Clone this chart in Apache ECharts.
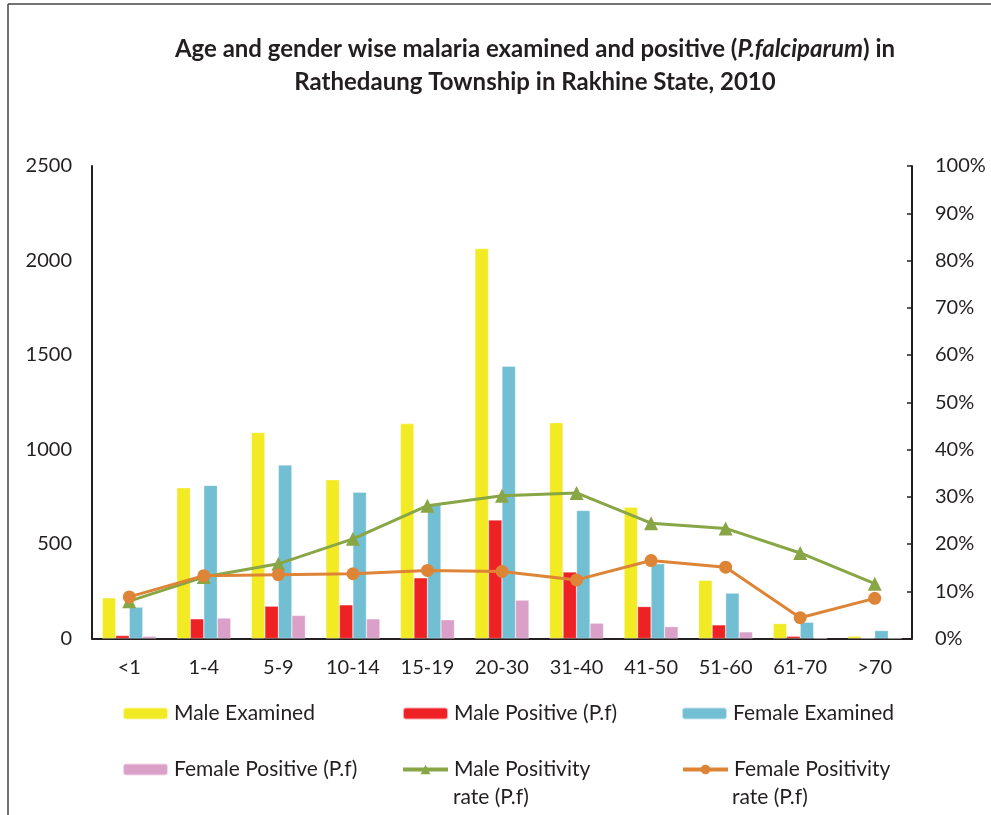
<!DOCTYPE html>
<html>
<head>
<meta charset="utf-8">
<script src="https://cdn.jsdelivr.net/npm/echarts@6/dist/echarts.min.js"></script>
<style>html,body{margin:0;padding:0;background:#fff}#c{width:991px;height:815px}</style>
</head>
<body>
<div id="c"></div>
<script>
var categories = ['<1','1-4','5-9','10-14','15-19','20-30','31-40','41-50','51-60','61-70','>70'];
var maleExamined = [215, 797, 1090, 840, 1137, 2063, 1142, 695, 308, 79, 12];
var malePositive = [16, 104, 171, 178, 321, 627, 352, 169, 72, 12, 0];
var femaleExamined = [166, 810, 918, 774, 712, 1441, 677, 395, 240, 86, 42];
var femalePositive = [12, 108, 122, 104, 99, 203, 81, 63, 35, 0, 0];
var maleRate = [7.9, 13.0, 15.8, 21.1, 28.1, 30.2, 30.8, 24.4, 23.3, 18.1, 11.6];
var femaleRate = [8.8, 13.3, 13.5, 13.7, 14.4, 14.2, 12.4, 16.5, 15.1, 4.4, 8.5];
var leftTicks = [0, 2500, 500];
var rightTicks = [0, 100, 10];

var FONT = 'Lato';
var TXT = '#231F20';
var LFS = 21;
var chart = echarts.init(document.getElementById('c'), null, {renderer: 'canvas'});

function leg(name, left, top) {
  return {
    data: [name], left: left, top: top, orient: 'horizontal',
    itemWidth: 45, itemHeight: 12, itemGap: 0, padding: 0,
    selectedMode: false,
    lineStyle: {width: 4},
    textStyle: {fontFamily: FONT, fontSize: LFS, color: TXT, lineHeight: 20, padding: [0, 0, 0, 1]}
  };
}

function bar(name, data, color) {
  return {
    name: name, type: 'bar', data: data, barWidth: 13.5, barGap: '0%',
    itemStyle: {color: color, borderColor: 'rgba(255,255,255,0.6)', borderWidth: 0.5},
    emphasis: {disabled: true}
  };
}

chart.setOption({
  animation: false,
  backgroundColor: '#fff',
  textStyle: {fontFamily: FONT},
  graphic: [
    {type: 'line', shape: {x1: 8, y1: 4, x2: 991, y2: 4}, style: {stroke: '#444', lineWidth: 1.5}},
    {type: 'line', shape: {x1: 8, y1: 4, x2: 8, y2: 815}, style: {stroke: '#444', lineWidth: 1.5}},
    {type: 'text', x: 535, y: 33, style: {
      text: '{b|Age and gender wise malaria examined and positive (}{bi|P.falciparum}{b|) in}\n{b|Rathedaung Township in Rakhine State, 2010}',
      align: 'center',
      rich: {
        b: {fontFamily: FONT, fontWeight: 'bold', fontSize: 24, lineHeight: 33, fill: TXT},
        bi: {fontFamily: FONT, fontWeight: 'bold', fontStyle: 'italic', fontSize: 24, lineHeight: 33, fill: TXT}
      }
    }},
    {type: 'text', x: 453, y: 787, style: {text: 'rate (P.f)', fontFamily: FONT, fontSize: LFS, fill: TXT, lineHeight: 20}},
    {type: 'text', x: 732, y: 787, style: {text: 'rate (P.f)', fontFamily: FONT, fontSize: LFS, fill: TXT, lineHeight: 20}}
  ],
  legend: [
    leg('Male Examined', 122, 703),
    leg('Male Positive (P.f)', 402, 703),
    leg('Female Examined', 681, 703),
    leg('Female Positive (P.f)', 122, 759),
    leg('Male Positivity', 401, 759),
    leg('Female Positivity', 681, 759)
  ],
  grid: {left: 92, right: 79, top: 166, bottom: 176.5, containLabel: false},
  xAxis: {
    type: 'category', data: categories,
    axisLine: {lineStyle: {color: TXT, width: 2}},
    axisTick: {show: false},
    axisLabel: {fontFamily: FONT, fontSize: 20, color: TXT, margin: 19}
  },
  yAxis: [
    {
      type: 'value', min: leftTicks[0], max: leftTicks[1], interval: leftTicks[2],
      axisLine: {show: true, lineStyle: {color: TXT, width: 2}},
      axisTick: {show: false}, splitLine: {show: false},
      axisLabel: {fontFamily: FONT, fontSize: 20, color: TXT, margin: 20, formatter: function (v) { return String(v); }}
    },
    {
      type: 'value', position: 'right', min: rightTicks[0], max: rightTicks[1], interval: rightTicks[2],
      axisLine: {show: true, lineStyle: {color: TXT, width: 2}},
      axisTick: {show: true, inside: true, length: 5, lineStyle: {color: TXT, width: 1.5}},
      splitLine: {show: false},
      axisLabel: {fontFamily: FONT, fontSize: 20, color: TXT, margin: 23, formatter: '{value}%'}
    }
  ],
  series: [
    bar('Male Examined', maleExamined, '#F2EA23'),
    bar('Male Positive (P.f)', malePositive, '#EE2224'),
    bar('Female Examined', femaleExamined, '#72BED3'),
    bar('Female Positive (P.f)', femalePositive, '#DBA0C8'),
    {
      name: 'Male Positivity', type: 'line', yAxisIndex: 1, data: maleRate,
      symbol: 'triangle', symbolSize: 14, z: 5,
      lineStyle: {color: '#88A645', width: 3}, itemStyle: {color: '#88A645'},
      emphasis: {disabled: true}
    },
    {
      name: 'Female Positivity', type: 'line', yAxisIndex: 1, data: femaleRate,
      symbol: 'circle', symbolSize: 13, z: 6,
      lineStyle: {color: '#DE8436', width: 3}, itemStyle: {color: '#DE8436'},
      emphasis: {disabled: true}
    }
  ]
});
</script>
</body>
</html>
